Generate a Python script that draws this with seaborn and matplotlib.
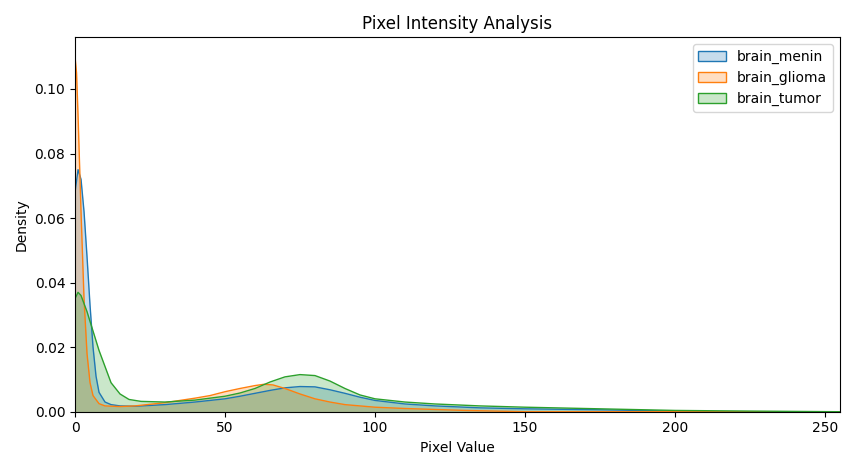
import numpy as np
import pandas as pd
import matplotlib
matplotlib.use("Agg")
import matplotlib.pyplot as plt
import seaborn as sns
from matplotlib.patches import Patch

# Density curves
menin_x = [0, 1, 2, 3, 4, 5, 6, 7, 8, 10, 12, 15, 20, 30, 40, 50, 55, 60, 65, 70, 75, 80, 85, 90, 95, 100, 110, 120, 135, 150, 175, 200, 210, 255]
menin_y = [0.068, 0.075, 0.072, 0.062, 0.048, 0.033, 0.020, 0.011, 0.006, 0.003, 0.0022, 0.0018, 0.0017, 0.0022, 0.003, 0.004, 0.0048, 0.0057, 0.0066, 0.0074, 0.0078, 0.0077, 0.0068, 0.0057, 0.0045, 0.0035, 0.0024, 0.0018, 0.0012, 0.0009, 0.0006, 0.0002, 0.0, 0.0]

glioma_x = [0, 0.5, 1, 2, 3, 4, 5, 6, 8, 10, 15, 20, 30, 40, 45, 50, 55, 60, 63, 66, 70, 75, 80, 85, 90, 100, 110, 130, 150, 255]
glioma_y = [0.110, 0.105, 0.092, 0.062, 0.035, 0.018, 0.009, 0.005, 0.0025, 0.0018, 0.0016, 0.0018, 0.0028, 0.0042, 0.005, 0.0062, 0.0072, 0.0081, 0.0085, 0.0083, 0.0072, 0.0055, 0.004, 0.003, 0.0022, 0.0014, 0.001, 0.0004, 0.0, 0.0]

tumor_x = [0, 1, 2, 4, 6, 8, 10, 12, 15, 18, 22, 30, 40, 50, 55, 60, 65, 70, 75, 80, 85, 90, 95, 100, 110, 120, 135, 150, 175, 200, 225, 255]
tumor_y = [0.035, 0.037, 0.036, 0.031, 0.025, 0.019, 0.014, 0.009, 0.0055, 0.0038, 0.0032, 0.003, 0.0036, 0.0048, 0.0058, 0.0072, 0.0092, 0.0108, 0.0115, 0.0112, 0.0095, 0.0072, 0.0052, 0.004, 0.003, 0.0024, 0.0018, 0.0014, 0.0009, 0.0004, 0.0002, 0.0]

series = {"brain_menin": (menin_x, menin_y), "brain_glioma": (glioma_x, glioma_y), "brain_tumor": (tumor_x, tumor_y)}
colors = sns.color_palette("tab10", 3)

fig, ax = plt.subplots(figsize=(8.55, 4.7), dpi=100)
handles = []
for (name, (xs, ys)), c in zip(series.items(), colors):
    # smooth the read points with a monotone-ish interpolation for drawing
    df = pd.DataFrame({"x": xs, "y": ys})
    sns.lineplot(data=df, x="x", y="y", color=c, linewidth=1, ax=ax)
    ax.fill_between(df["x"], df["y"], color=c, alpha=0.25, linewidth=0)
    handles.append(Patch(facecolor=(*c, 0.25), edgecolor=c, label=name))

ax.set_xlim(0, 255)
ax.set_ylim(0, 0.116)
ax.set_title("Pixel Intensity Analysis")
ax.set_xlabel("Pixel Value")
ax.set_ylabel("Density")
ax.legend(handles=handles, loc="upper right")
plt.tight_layout()
plt.savefig("out.png")
